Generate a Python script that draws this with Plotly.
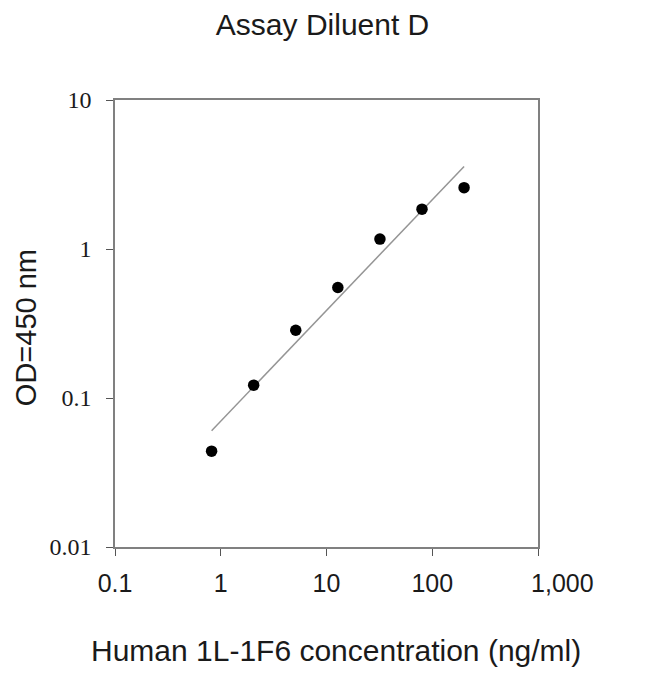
import numpy as np
import plotly.graph_objects as go

# standard curve data (2.5-fold dilution series)
conc = [0.8192, 2.048, 5.12, 12.8, 32, 80, 200]
od450 = [0.044, 0.122, 0.285, 0.552, 1.165, 1.85, 2.58]

x_ticks = [0.1, 1, 10, 100, 1000]
# the last label sits right of its tick in the original, padded with nbsp
x_ticktext = ['0.1', '1', '10', '100', '\u00a0' * 7 + '1,000']
y_ticks = [0.01, 0.1, 1, 10]
y_ticktext = ['0.01', '0.1', '1', '10']

# power-law trend line fitted in log-log space
k, b = np.polyfit(np.log10(conc), np.log10(od450), 1)
fit_x = [conc[0], conc[-1]]
fit_y = [10 ** (k * np.log10(v) + b) for v in fit_x]

fig = go.Figure()
fig.add_trace(go.Scatter(x=fit_x, y=fit_y, mode='lines',
                         line=dict(color='#959595', width=1.5),
                         showlegend=False, hoverinfo='skip'))
fig.add_trace(go.Scatter(x=conc, y=od450, mode='markers',
                         marker=dict(color='black', size=11.5),
                         showlegend=False))

axis_common = dict(showline=True, linecolor='#808080', linewidth=1.6,
                   mirror=True, showgrid=False, zeroline=False,
                   ticks='outside', ticklen=7, tickcolor='#555555')

fig.update_xaxes(type='log', range=[-1, 3], tickvals=x_ticks, ticktext=x_ticktext,
                 ticklabelstandoff=6,
                 tickfont=dict(family='Liberation Sans, Arial', size=25, color='#1a1a1a'),
                 **axis_common)
fig.update_yaxes(type='log', range=[-2, 1], tickvals=y_ticks, ticktext=y_ticktext,
                 ticklabelstandoff=10,
                 tickfont=dict(family='Liberation Serif, Times New Roman', size=24, color='#1a1a1a'),
                 **axis_common)

# axis titles placed as annotations to match the original offsets
fig.add_annotation(text='Human 1L-1F6 concentration (ng/ml)',
                   xref='paper', yref='paper', x=0.523, y=-0.232,
                   xanchor='center', yanchor='middle', showarrow=False,
                   font=dict(family='Liberation Sans, Arial', size=30, color='#1a1a1a'))
fig.add_annotation(text='OD=450 nm', textangle=-90,
                   xref='paper', yref='paper', x=-0.21, y=0.49,
                   xanchor='center', yanchor='middle', showarrow=False,
                   font=dict(family='Liberation Sans, Arial', size=29, color='#1a1a1a'))

# page body adds 8px margin, so the figure is sized to fit the 650x674 window
fig.update_layout(
    width=642, height=666,
    paper_bgcolor='white', plot_bgcolor='white',
    margin=dict(l=107, r=112, t=92, b=127),
    title=dict(text='Assay Diluent D', x=0.49, xanchor='center',
               y=1 - 16 / 666, yanchor='middle',
               font=dict(family='Liberation Sans, Arial', size=30, color='#1a1a1a')),
)

fig.write_html("out.html")
